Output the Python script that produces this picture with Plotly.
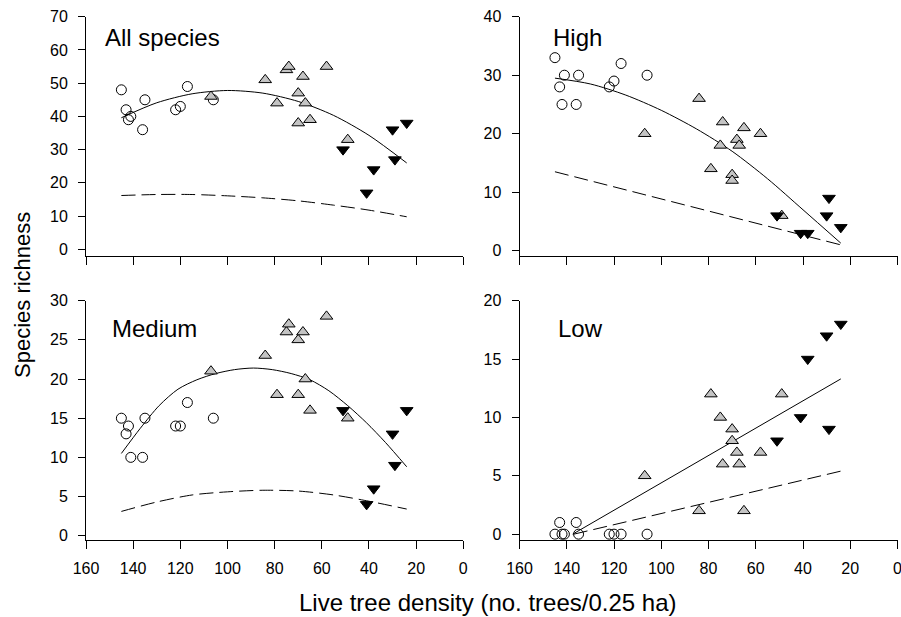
import plotly.graph_objects as go

# ---------------- data ----------------
circle_x = [145, 143, 142, 141, 136, 135, 122, 120, 117, 106]
tri_x = [107, 84, 79, 75, 74, 70, 70, 68, 67, 65, 58, 49]
inv_x = [51, 41, 38, 30, 29, 24]

all_c = [48, 42, 39, 40, 36, 45, 42, 43, 49, 45]
all_t = [46, 51, 44, 54, 55, 47, 38, 52, 44, 39, 55, 33]
all_i = [30, 17, 24, 36, 27, 38]

high_c = [33, 28, 25, 30, 25, 30, 28, 29, 32, 30]
high_t = [20, 26, 14, 18, 22, 13, 12, 19, 18, 21, 20, 6]
high_i = [6, 3, 3, 6, 9, 4]

med_c = [15, 13, 14, 10, 10, 15, 14, 14, 17, 15]
med_t = [21, 23, 18, 26, 27, 25, 18, 26, 20, 16, 28, 15]
med_i = [16, 4, 6, 13, 9, 16]

low_c = [0, 1, 0, 0, 1, 0, 0, 0, 0, 0]
low_t = [5, 2, 12, 10, 6, 9, 8, 7, 6, 2, 7, 12]
low_i = [8, 10, 15, 17, 9, 18]

# fitted (solid) and null-model (dashed) curves
curve_x = [145, 130, 115, 100, 85, 70, 55, 40, 24]
all_fit = [39.6, 44.1, 46.8, 47.8, 47.0, 44.5, 40.3, 34.3, 26.0]
all_null = [16.2, 16.5, 16.5, 16.1, 15.5, 14.6, 13.3, 11.8, 9.8]

high_fit = [29.5, 28.5, 26.6, 24.0, 20.8, 17.0, 12.3, 7.0, 1.3]
high_null_x = [145, 24]
high_null = [13.5, 1.0]

med_fit_x = [145, 137, 129, 121, 113, 105, 97, 89, 81, 73, 65, 57, 49, 41, 33, 24]
med_fit = [10.5, 13.7, 16.6, 18.7, 19.9, 20.7, 21.2, 21.4, 21.2, 20.7, 19.9,
           18.5, 16.6, 14.4, 11.9, 8.8]
med_null = [3.1, 4.3, 5.2, 5.6, 5.8, 5.7, 5.2, 4.4, 3.4]

low_fit_x = [137.5, 24]
low_fit = [0.0, 13.3]
low_null_x = [137, 24]
low_null = [0.0, 5.4]

panel_names = ["All species", "High", "Medium", "Low"]
x_ticks = [0, 20, 40, 60, 80, 100, 120, 140, 160]

# ---------------- figure ----------------
W, H = 901, 617
FONT = "Liberation Sans, Arial, Helvetica, sans-serif"


def px_x(p):
    return p / W


def px_y(p):
    return 1 - p / H


panels = [
    dict(name=panel_names[0], c=all_c, t=all_t, i=all_i,
         fit=(curve_x, all_fit), null=(curve_x, all_null),
         xd=(86, 463.3), yd=(16.7, 256), yr=[-2, 70], dt=10, ymax=70,
         lab=(103, 37), showx=False),
    dict(name=panel_names[1], c=high_c, t=high_t, i=high_i,
         fit=(curve_x, high_fit), null=(high_null_x, high_null),
         xd=(519.5, 897.5), yd=(16.7, 256), yr=[-0.9, 40], dt=10, ymax=40,
         lab=(551, 37), showx=False),
    dict(name=panel_names[2], c=med_c, t=med_t, i=med_i,
         fit=(med_fit_x, med_fit), null=(curve_x, med_null),
         xd=(86, 463.3), yd=(300.7, 540), yr=[-0.55, 30], dt=5, ymax=30,
         lab=(110, 328), showx=True),
    dict(name=panel_names[3], c=low_c, t=low_t, i=low_i,
         fit=(low_fit_x, low_fit), null=(low_null_x, low_null),
         xd=(519.5, 897.5), yd=(300.7, 540), yr=[-0.5, 20], dt=5, ymax=20,
         lab=(556, 328), showx=True),
]

fig = go.Figure()
annotations = []

for k, p in enumerate(panels):
    n = "" if k == 0 else str(k + 1)
    xa, ya = "x" + n, "y" + n
    # curves
    fig.add_trace(go.Scatter(x=p["null"][0], y=p["null"][1], mode="lines",
                             line=dict(color="black", width=1, dash="14px,6px",
                                       shape="spline", smoothing=0.8),
                             xaxis=xa, yaxis=ya, showlegend=False, hoverinfo="skip"))
    fig.add_trace(go.Scatter(x=p["fit"][0], y=p["fit"][1], mode="lines",
                             line=dict(color="black", width=1, shape="spline", smoothing=0.8),
                             xaxis=xa, yaxis=ya, showlegend=False, hoverinfo="skip"))
    # markers
    fig.add_trace(go.Scatter(x=circle_x, y=p["c"], mode="markers",
                             marker=dict(symbol="circle-open", size=10, color="black",
                                         line=dict(width=1, color="black")),
                             xaxis=xa, yaxis=ya, showlegend=False))
    fig.add_trace(go.Scatter(x=tri_x, y=p["t"], mode="markers",
                             marker=dict(symbol="triangle-up", size=11, color="#c4c4c4",
                                         line=dict(width=1, color="black")),
                             xaxis=xa, yaxis=ya, showlegend=False))
    fig.add_trace(go.Scatter(x=inv_x, y=p["i"], mode="markers",
                             marker=dict(symbol="triangle-down", size=11, color="black",
                                         line=dict(width=1, color="black")),
                             xaxis=xa, yaxis=ya, showlegend=False))

    xkey = "xaxis" + n
    ykey = "yaxis" + n
    fig.layout[xkey] = dict(
        domain=[px_x(p["xd"][0]), px_x(p["xd"][1])],
        range=[160, 0], anchor=ya, automargin=False,
        tickvals=x_ticks, ticktext=[str(v) for v in x_ticks],
        showticklabels=p["showx"], ticks="outside", ticklen=8, tickwidth=1,
        tickcolor="black", showline=True, linecolor="black", linewidth=1,
        showgrid=False, zeroline=False, ticklabelstandoff=6,
        ticklabeloverflow="allow",
        tickfont=dict(family=FONT, size=16, color="black"),
    )
    yt = list(range(0, p["ymax"] + 1, p["dt"]))
    fig.layout[ykey] = dict(
        domain=[px_y(p["yd"][1]), px_y(p["yd"][0])],
        range=p["yr"], anchor=xa, automargin=False,
        tickvals=yt, ticktext=[str(v) for v in yt],
        ticks="outside", ticklen=7, tickwidth=1, tickcolor="black",
        showline=True, linecolor="black", linewidth=1,
        showgrid=False, zeroline=False, ticklabelstandoff=7,
        ticklabeloverflow="allow",
        tickfont=dict(family=FONT, size=16, color="black"),
    )
    annotations.append(dict(text=p["name"], xref="paper", yref="paper",
                            x=px_x(p["lab"][0]), y=px_y(p["lab"][1]),
                            xanchor="left", yanchor="middle", showarrow=False,
                            font=dict(family=FONT, size=24, color="black")))

annotations.append(dict(text="Species richness", xref="paper", yref="paper",
                        x=px_x(22), y=px_y(295), textangle=-90,
                        xanchor="center", yanchor="middle", showarrow=False,
                        font=dict(family=FONT, size=22, color="black")))
annotations.append(dict(text="Live tree density (no. trees/0.25 ha)", xref="paper", yref="paper",
                        x=px_x(488), y=px_y(602),
                        xanchor="center", yanchor="middle", showarrow=False,
                        font=dict(family=FONT, size=24, color="black")))

fig.update_layout(
    width=W, height=H,
    margin=dict(l=0, r=0, t=0, b=0, autoexpand=False),
    paper_bgcolor="white", plot_bgcolor="white",
    annotations=annotations,
    showlegend=False,
)

fig.write_html(
    "out.html",
    config={"displayModeBar": False},
    post_script="document.body.style.margin='0';document.body.style.overflow='hidden';",
)
